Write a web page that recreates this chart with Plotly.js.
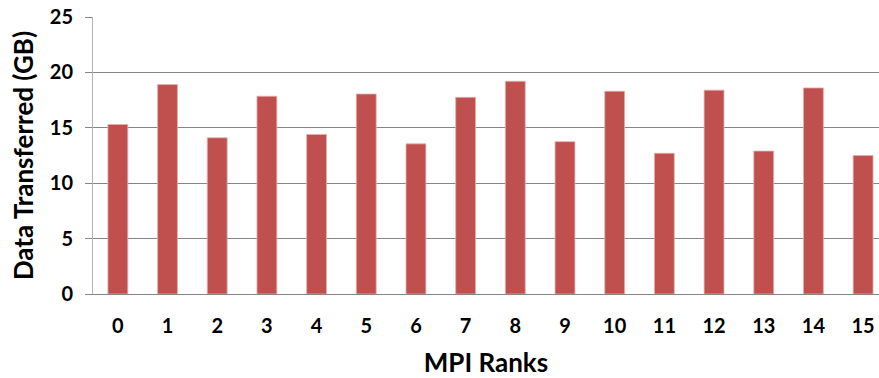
<!DOCTYPE html>
<html>
<head>
<meta charset="utf-8">
<script src="https://cdn.plot.ly/plotly-3.0.1.min.js"></script>
<style>
  html, body { margin: 0; padding: 0; background: #fff; }
  #chart { width: 879px; height: 378px; }
</style>
</head>
<body>
<div id="chart"></div>
<script>
// MPI rank ids and the amount of data each rank transferred (GB)
const ranks = ['0', '1', '2', '3', '4', '5', '6', '7', '8', '9', '10', '11', '12', '13', '14', '15'];
const dataGB = [15.3, 18.9, 14.1, 17.85, 14.4, 18.05, 13.55, 17.75, 19.2, 13.75, 18.3, 12.7, 18.4, 12.9, 18.6, 12.5];
const yTicks = [0, 5, 10, 15, 20, 25];

const FONT = 'Lato, "Open Sans", sans-serif';

const trace = {
  type: 'bar',
  x: ranks,
  y: dataGB,
  marker: {
    color: '#C0504D',
    line: { color: '#e3b0ae', width: 0.8 }
  },
  hoverinfo: 'x+y'
};

const layout = {
  width: 879,
  height: 378,
  margin: { l: 93, r: 0, t: 17, b: 84 },
  paper_bgcolor: '#ffffff',
  plot_bgcolor: '#ffffff',
  bargap: 0.6,
  showlegend: false,
  font: { family: FONT, color: '#000000' },
  xaxis: {
    type: 'category',
    range: [-0.5, 15.32],
    showgrid: false,
    zeroline: false,
    showline: true,
    linecolor: '#868686',
    linewidth: 1,
    ticks: '',
    tickfont: { family: FONT, size: 20, color: '#000', weight: 'bold' },
    ticklabelstandoff: 14,
    title: {
      text: 'MPI Ranks',
      font: { family: FONT, size: 26, color: '#000', weight: 'bold' },
      standoff: 20
    },
    automargin: false
  },
  yaxis: {
    range: [0, 25],
    tickvals: yTicks,
    ticktext: yTicks.map(String),
    showgrid: true,
    gridcolor: '#868686',
    gridwidth: 1,
    zeroline: false,
    showline: true,
    linecolor: '#b4b4b4',
    linewidth: 1,
    ticks: 'outside',
    ticklen: 7,
    tickcolor: '#868686',
    tickwidth: 1,
    tickfont: { family: FONT, size: 20, color: '#000', weight: 'bold' },
    ticklabelstandoff: 8,
    title: {
      text: 'Data Transferred (GB)',
      font: { family: FONT, size: 26, color: '#000', weight: 'bold' },
      standoff: 8
    },
    automargin: false
  }
};

Plotly.newPlot('chart', [trace], layout, { staticPlot: true, displayModeBar: false });
</script>
</body>
</html>
